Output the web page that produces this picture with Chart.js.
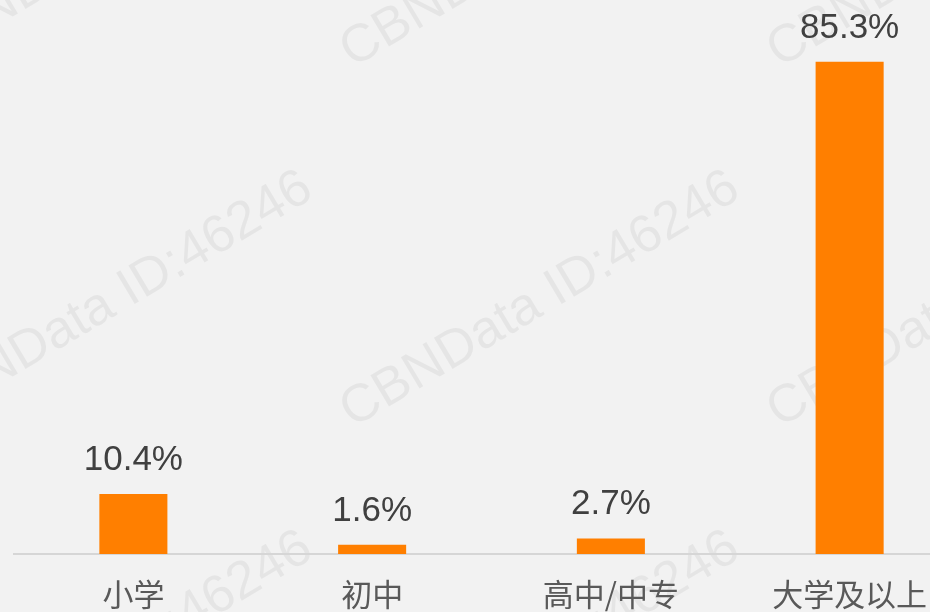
<!DOCTYPE html>
<html>
<head>
<meta charset="utf-8">
<script src="https://cdn.jsdelivr.net/npm/chart.js@4/dist/chart.umd.min.js"></script>
<style>
html, body { margin: 0; padding: 0; overflow: hidden; background: #f2f2f2; }
#wrap { position: relative; width: 969px; height: 612px; }
</style>
</head>
<body>
<div id="wrap"><canvas id="grafica"></canvas></div>
<script>
/* DATOS */
const categorias = ['小学', '初中', '高中/中专', '大学及以上'];
const valores = [10.4, 1.6, 2.7, 85.3];
const etiquetas = ['10.4%', '1.6%', '2.7%', '85.3%'];

/* MARCA DE AGUA */
const marcaAgua = {
  id: 'marcaAgua',
  beforeDraw(chart) {
    const c = chart.ctx;
    c.save();
    c.font = '53px "Liberation Sans", Arial, sans-serif';
    c.fillStyle = 'rgba(0,0,0,0.05)';
    c.textAlign = 'center';
    c.textBaseline = 'middle';
    [113, 540, 967].forEach(x => {
      [-60, 300, 660].forEach(y => {
        c.save();
        c.translate(x, y);
        c.rotate(-30.7 * Math.PI / 180);
        c.fillText('CBNData ID:46246', 0, 0);
        c.restore();
      });
    });
    c.restore();
  }
};

/* ETIQUETAS DE VALOR */
const valoresArriba = {
  id: 'valoresArriba',
  afterDatasetsDraw(chart) {
    const c = chart.ctx;
    const meta = chart.getDatasetMeta(0);
    c.save();
    c.font = '35px "Liberation Sans", Arial, sans-serif';
    c.fillStyle = '#404040';
    c.textAlign = 'center';
    c.textBaseline = 'alphabetic';
    meta.data.forEach((bar, i) => {
      c.fillText(etiquetas[i], bar.x, bar.y - 24);
    });
    c.restore();
  }
};

const ctx1 = document.getElementById('grafica');

new Chart(ctx1, {
  type: 'bar',
  data: {
    labels: categorias,
    datasets: [{
      data: valores,
      backgroundColor: '#ff7f00',
      categoryPercentage: 1,
      barPercentage: 0.285
    }]
  },
  options: {
    responsive: true,
    maintainAspectRatio: false,
    animation: false,
    layout: { padding: { left: 14, right: 0, top: 0, bottom: 0 } },
    plugins: { legend: { display: false }, tooltip: { enabled: false } },
    scales: {
      x: {
        grid: { display: false, drawTicks: false },
        border: { color: '#d6d6d6', width: 2 },
        ticks: {
          color: '#595959',
          padding: 22,
          font: { size: 31, family: '"Noto Sans CJK SC", sans-serif' }
        },
        afterFit(scale) { scale.height = 58; }
      },
      y: {
        display: false,
        min: 0,
        max: 96
      }
    }
  },
  plugins: [marcaAgua, valoresArriba]
});
</script>
</body>
</html>
